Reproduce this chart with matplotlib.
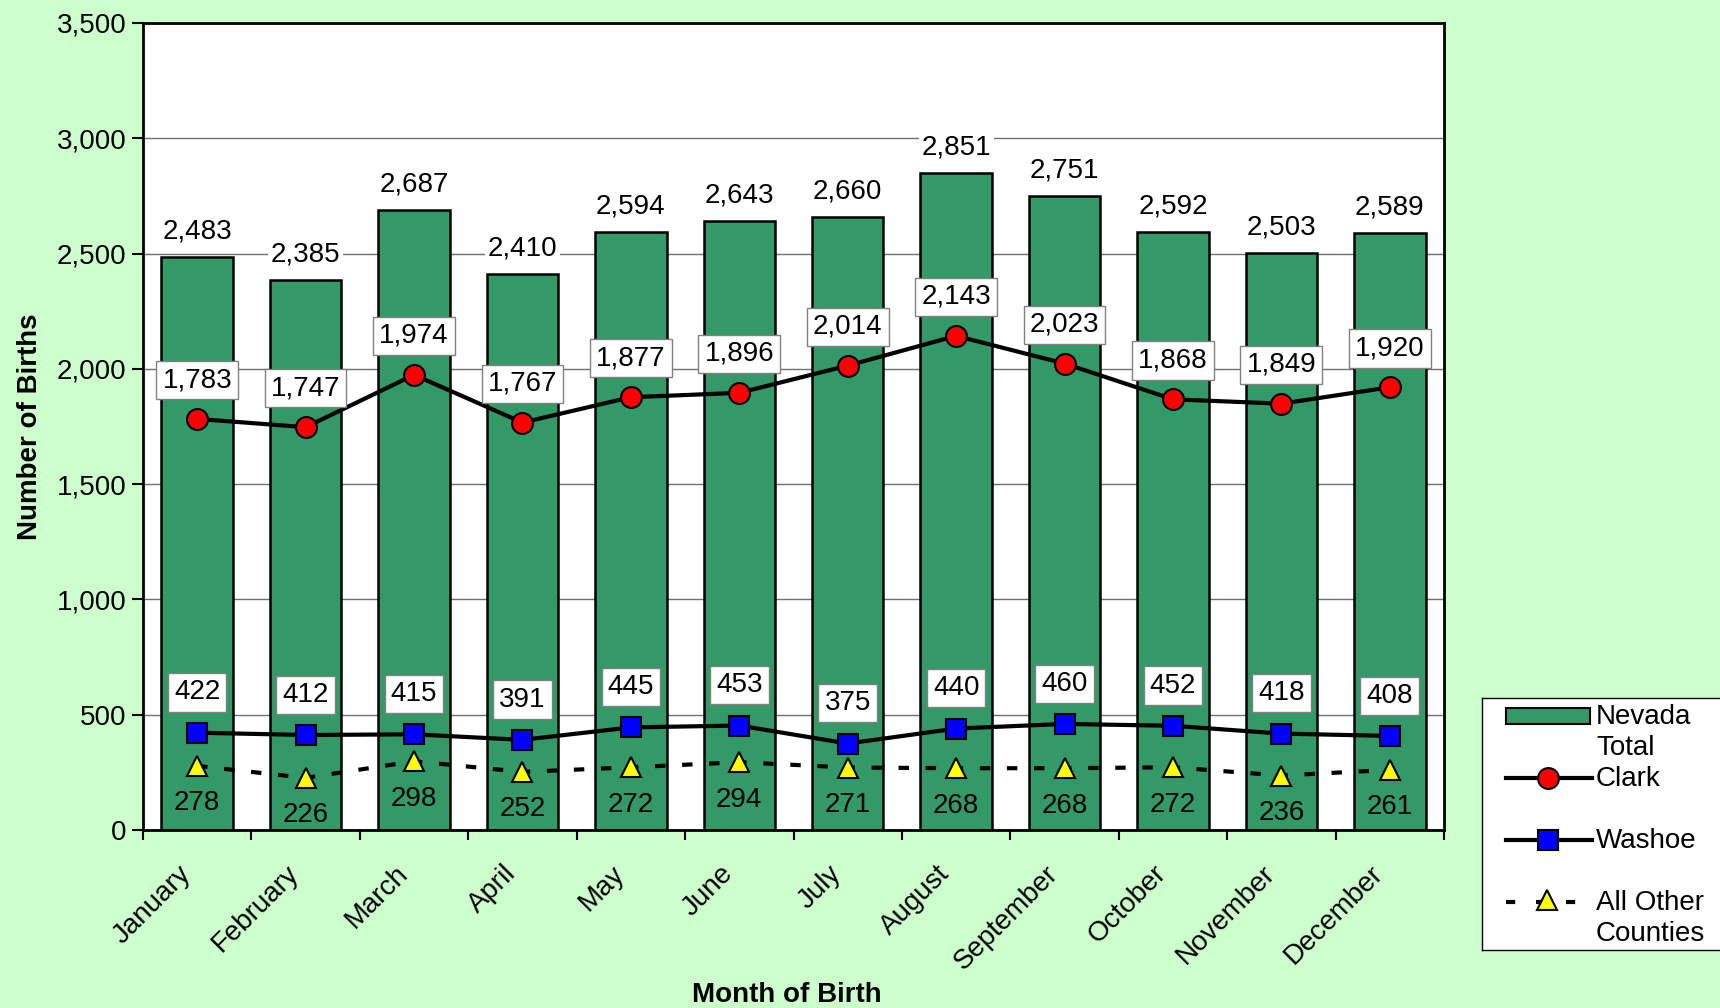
import numpy as np
import matplotlib
matplotlib.use('Agg')
import matplotlib.pyplot as plt
from matplotlib.patches import Rectangle
from matplotlib.ticker import FuncFormatter, FixedLocator

plt.rcParams['font.family'] = ['Liberation Sans', 'DejaVu Sans']

months = ['January', 'February', 'March', 'April', 'May', 'June', 'July',
          'August', 'September', 'October', 'November', 'December']
nevada_total = [2483, 2385, 2687, 2410, 2594, 2643, 2660, 2851, 2751, 2592, 2503, 2589]
clark = [1783, 1747, 1974, 1767, 1877, 1896, 2014, 2143, 2023, 1868, 1849, 1920]
washoe = [422, 412, 415, 391, 445, 453, 375, 440, 460, 452, 418, 408]
other = [278, 226, 298, 252, 272, 294, 271, 268, 268, 272, 236, 261]

bg = '#CCFFCC'
bar_color = '#339966'
fs = 20

fig = plt.figure(figsize=(17.2, 10.08), dpi=100, facecolor=bg)
ax = fig.add_axes([143 / 1720, 1 - 830 / 1008, (1444 - 143) / 1720, (830 - 23) / 1008])
ax.set_facecolor('white')

x = np.arange(len(months))
ax.bar(x, nevada_total, width=0.66, color=bar_color, edgecolor='black', linewidth=1.8, zorder=2)
ax.plot(x, clark, color='black', lw=3, marker='o', ms=15, mfc='red', mec='black', mew=1.5, zorder=4)
ax.plot(x, washoe, color='black', lw=3, marker='s', ms=15, mfc='blue', mec='black', mew=1.5, zorder=4)
ax.plot(x, other, color='black', lw=3, ls=(0, (2.5, 4)), marker='^', ms=15, mfc='yellow',
        mec='black', mew=1.5, zorder=4)

for i in x:
    ax.annotate(f'{nevada_total[i]:,}', (i, nevada_total[i]), xytext=(0, 9), textcoords='offset points',
                ha='center', va='bottom', fontsize=fs, zorder=5,
                bbox=dict(boxstyle='square,pad=0.1', fc='white', ec='none'))
    ax.annotate(f'{clark[i]:,}', (i, clark[i]), xytext=(0, 28), textcoords='offset points',
                ha='center', va='center', fontsize=fs, zorder=5,
                bbox=dict(boxstyle='square,pad=0.22', fc='white', ec='#808080', lw=1))
    ax.annotate(f'{washoe[i]:,}', (i, washoe[i]), xytext=(0, 29), textcoords='offset points',
                ha='center', va='center', fontsize=fs, zorder=5,
                bbox=dict(boxstyle='square,pad=0.22', fc='white', ec='#808080', lw=1))
    ax.annotate(f'{other[i]:,}', (i, other[i]), xytext=(0, -27), textcoords='offset points',
                ha='center', va='center', fontsize=fs, zorder=5)

ax.set_xlim(-0.5, len(months) - 0.5)
ax.set_ylim(0, 3500)
ax.set_yticks(np.arange(0, 3501, 500))
ax.yaxis.set_major_formatter(FuncFormatter(lambda v, p: f'{int(v):,}'))
ax.yaxis.grid(True, color='#707070', lw=1, zorder=0)
ax.set_axisbelow(True)

# month labels sit a little left of the category centre, as in the original
ax.set_xticks(x - 0.18)
ax.set_xticklabels(months, rotation=45, ha='right', rotation_mode='anchor', fontsize=fs)
ax.xaxis.set_minor_locator(FixedLocator(np.arange(-0.5, len(months), 1)))
ax.tick_params(axis='x', which='major', length=0, pad=22)
ax.tick_params(axis='x', which='minor', length=7, width=1.5, direction='out')
ax.tick_params(axis='y', length=8, width=1.5, direction='out', labelsize=fs, pad=4)
for s in ax.spines.values():
    s.set_linewidth(2)
    s.set_color('black')

ax.set_ylabel('Number of Births', fontsize=fs, fontweight='bold', labelpad=10)
ax.set_xlabel('Month of Birth', fontsize=fs, fontweight='bold')
ax.xaxis.set_label_coords(0.495, -0.188)

# legend drawn by hand in pixel space
lax = fig.add_axes([1482 / 1720, 1 - 950 / 1008, 240 / 1720, 252 / 1008])
lax.set_xlim(0, 240)
lax.set_ylim(252, 0)
lax.set_facecolor('white')
for s in lax.spines.values():
    s.set_linewidth(1)
    s.set_color('black')
lax.spines['right'].set_visible(False)
lax.set_xticks([])
lax.set_yticks([])

lx0, lx1, tx = 24, 108, 114
lax.add_patch(Rectangle((lx0, 10), lx1 - lx0, 16, fc=bar_color, ec='black', lw=1.5))
lax.plot([lx0, lx1 + 2], [80, 80], color='black', lw=3)
lax.plot([(lx0 + lx1) / 2], [80], 'o', ms=15, mfc='red', mec='black', mew=1.5)
lax.plot([lx0, lx1 + 2], [142, 142], color='black', lw=3)
lax.plot([(lx0 + lx1) / 2], [142], 's', ms=15, mfc='blue', mec='black', mew=1.5)
lax.plot([lx0, lx1 - 12], [204, 204], color='black', lw=3, ls=(0, (2.2, 5)))
lax.plot([(lx0 + lx1) / 2 - 1], [202], '^', ms=15, mfc='yellow', mec='black', mew=1.5)
for txt, yy in [('Nevada', 19), ('Total', 50), ('Clark', 81),
                ('Washoe', 143), ('All Other', 205), ('Counties', 236)]:
    lax.text(tx, yy, txt, fontsize=fs, va='center', ha='left')

fig.savefig('out.png', dpi=100, facecolor=bg)
